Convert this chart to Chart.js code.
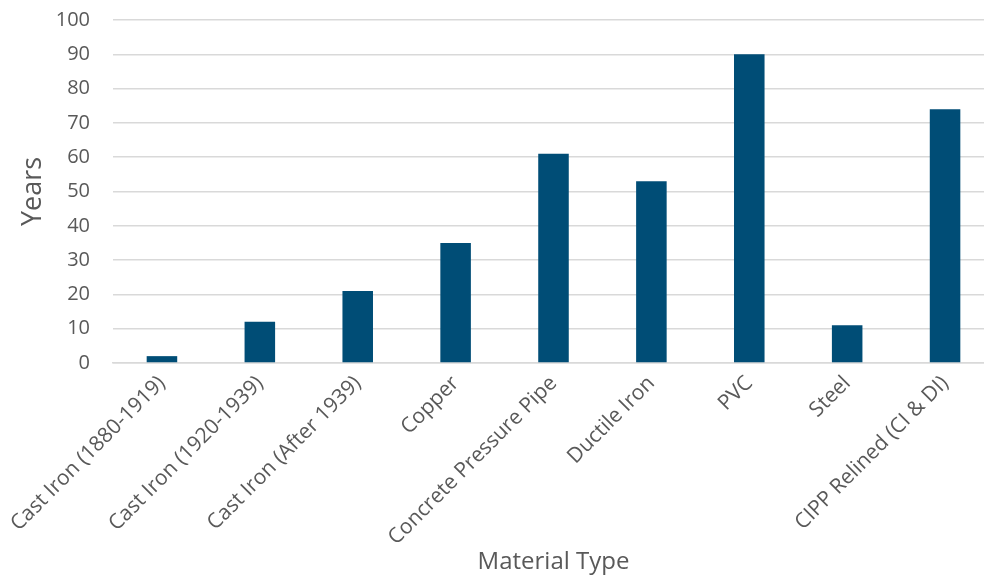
<!DOCTYPE html>
<html>
<head>
<meta charset="utf-8">
<script src="https://cdn.jsdelivr.net/npm/chart.js@4"></script>
<style>
  html, body { margin: 0; padding: 0; background: #ffffff; overflow: hidden; }
  /* the plot runs slightly past the right edge of the window */
  #wrap { width: 994px; height: 577px; position: relative; }
</style>
</head>
<body>
<div id="wrap"><canvas id="chart"></canvas></div>
<script>
// Service life of water main materials (years)
const materials = [
  'Cast Iron (1880-1919)',
  'Cast Iron (1920-1939)',
  'Cast Iron (After 1939)',
  'Copper',
  'Concrete Pressure Pipe',
  'Ductile Iron',
  'PVC',
  'Steel',
  'CIPP Relined (CI & DI)'
];
const years = [2, 12, 21, 35, 61, 53, 90, 11, 74];

const yMin = 0;
const yMax = 100;
const yStep = 10;

const textColor = '#595959';
const gridColor = '#d9d9d9';
const fontFamily = '"Open Sans", "Noto Sans", sans-serif';

new Chart(document.getElementById('chart'), {
  type: 'bar',
  data: {
    labels: materials,
    datasets: [{
      label: 'Years',
      data: years,
      backgroundColor: '#004d76',
      borderWidth: 0,
      categoryPercentage: 0.624,
      barPercentage: 0.5
    }]
  },
  options: {
    responsive: true,
    maintainAspectRatio: false,
    animation: false,
    layout: { padding: 0 },
    plugins: {
      legend: { display: false },
      tooltip: { enabled: false }
    },
    scales: {
      x: {
        grid: { display: false, drawTicks: false },
        border: { display: true, color: gridColor, width: 1.5 },
        ticks: {
          color: textColor,
          font: { family: fontFamily, size: 21 },
          minRotation: 45,
          maxRotation: 45,
          padding: 8,
          autoSkip: false
        },
        title: {
          display: true,
          text: 'Material Type',
          color: textColor,
          font: { family: fontFamily, size: 24 },
          padding: { top: 0, bottom: 0 }
        },
        // room under the plot for the slanted names and the axis title
        afterFit: (scale) => {
          scale.height = 214;
          scale.paddingRight = 0;
        }
      },
      y: {
        min: yMin,
        max: yMax,
        ticks: {
          stepSize: yStep,
          color: textColor,
          font: { family: fontFamily, size: 20 },
          padding: 23
        },
        grid: { color: gridColor, lineWidth: 1.5, drawTicks: false },
        border: { display: false },
        title: {
          display: true,
          text: 'Years',
          color: textColor,
          font: { family: fontFamily, size: 27 },
          padding: { top: 17, bottom: 0 }
        },
        afterFit: (scale) => {
          scale.width = 113;
          scale.paddingTop = 20;
        }
      }
    }
  }
});
</script>
</body>
</html>
